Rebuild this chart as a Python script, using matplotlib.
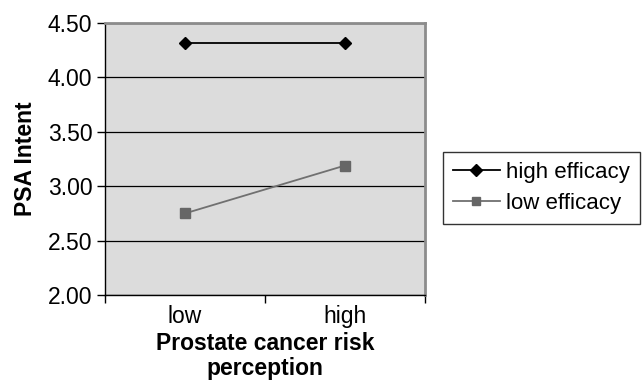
import matplotlib
matplotlib.use("Agg")
import matplotlib.pyplot as plt
from matplotlib.ticker import FixedLocator

plt.rcParams["font.family"] = ["Liberation Sans", "DejaVu Sans"]

# Category positions and group means
categories = ["low", "high"]
high_efficacy = [4.32, 4.32]
low_efficacy = [2.75, 3.19]
y_ticks = [2.00, 2.50, 3.00, 3.50, 4.00, 4.50]

FS = 16.5

fig = plt.figure(figsize=(6.42, 3.85), dpi=100, facecolor="white")
ax = fig.add_axes([105 / 642, 1 - 295 / 385, 320 / 642, 272 / 385])
ax.set_facecolor("#dcdcdc")

x = [0.5, 1.5]
ax.plot(x, high_efficacy, color="black", lw=1.3, marker="D", markersize=6.5,
        label="high efficacy", zorder=3)
ax.plot(x, low_efficacy, color="#707070", lw=1.3, marker="s", markersize=7,
        markerfacecolor="#666666", markeredgecolor="#666666",
        label="low efficacy", zorder=3)

ax.set_xlim(0, 2)
ax.set_ylim(2.0, 4.5)
ax.set_yticks(y_ticks)
ax.set_yticklabels([f"{v:.2f}" for v in y_ticks], fontsize=FS)
ax.set_xticks(x)
ax.set_xticklabels(categories, fontsize=FS)
ax.tick_params(axis="x", length=0, pad=7)
ax.xaxis.set_minor_locator(FixedLocator([0, 1, 2]))
ax.tick_params(axis="x", which="minor", length=6, width=1, color="black")
ax.tick_params(axis="y", length=6, width=1, pad=3)
ax.yaxis.grid(True, color="black", lw=0.9)
ax.set_axisbelow(True)

for side in ("top", "right"):
    ax.spines[side].set_color("#8c8c8c")
    ax.spines[side].set_linewidth(2)
for side in ("left", "bottom"):
    ax.spines[side].set_color("black")
    ax.spines[side].set_linewidth(1)

ax.set_ylabel("PSA Intent", fontsize=FS, fontweight="bold", labelpad=8)
ax.set_xlabel("Prostate cancer risk\nperception", fontsize=FS,
              fontweight="bold", labelpad=3, linespacing=1.12)

leg = ax.legend(loc="upper left", bbox_to_anchor=(443 / 642, 1 - 152 / 385),
                bbox_transform=fig.transFigure, fontsize=16, frameon=True,
                fancybox=False, edgecolor="black", borderpad=0.45,
                handlelength=2.1, handletextpad=0.3, labelspacing=0.45,
                borderaxespad=0, markerscale=0.9)
leg.get_frame().set_linewidth(1)

fig.savefig("out.png", dpi=100, facecolor="white")
